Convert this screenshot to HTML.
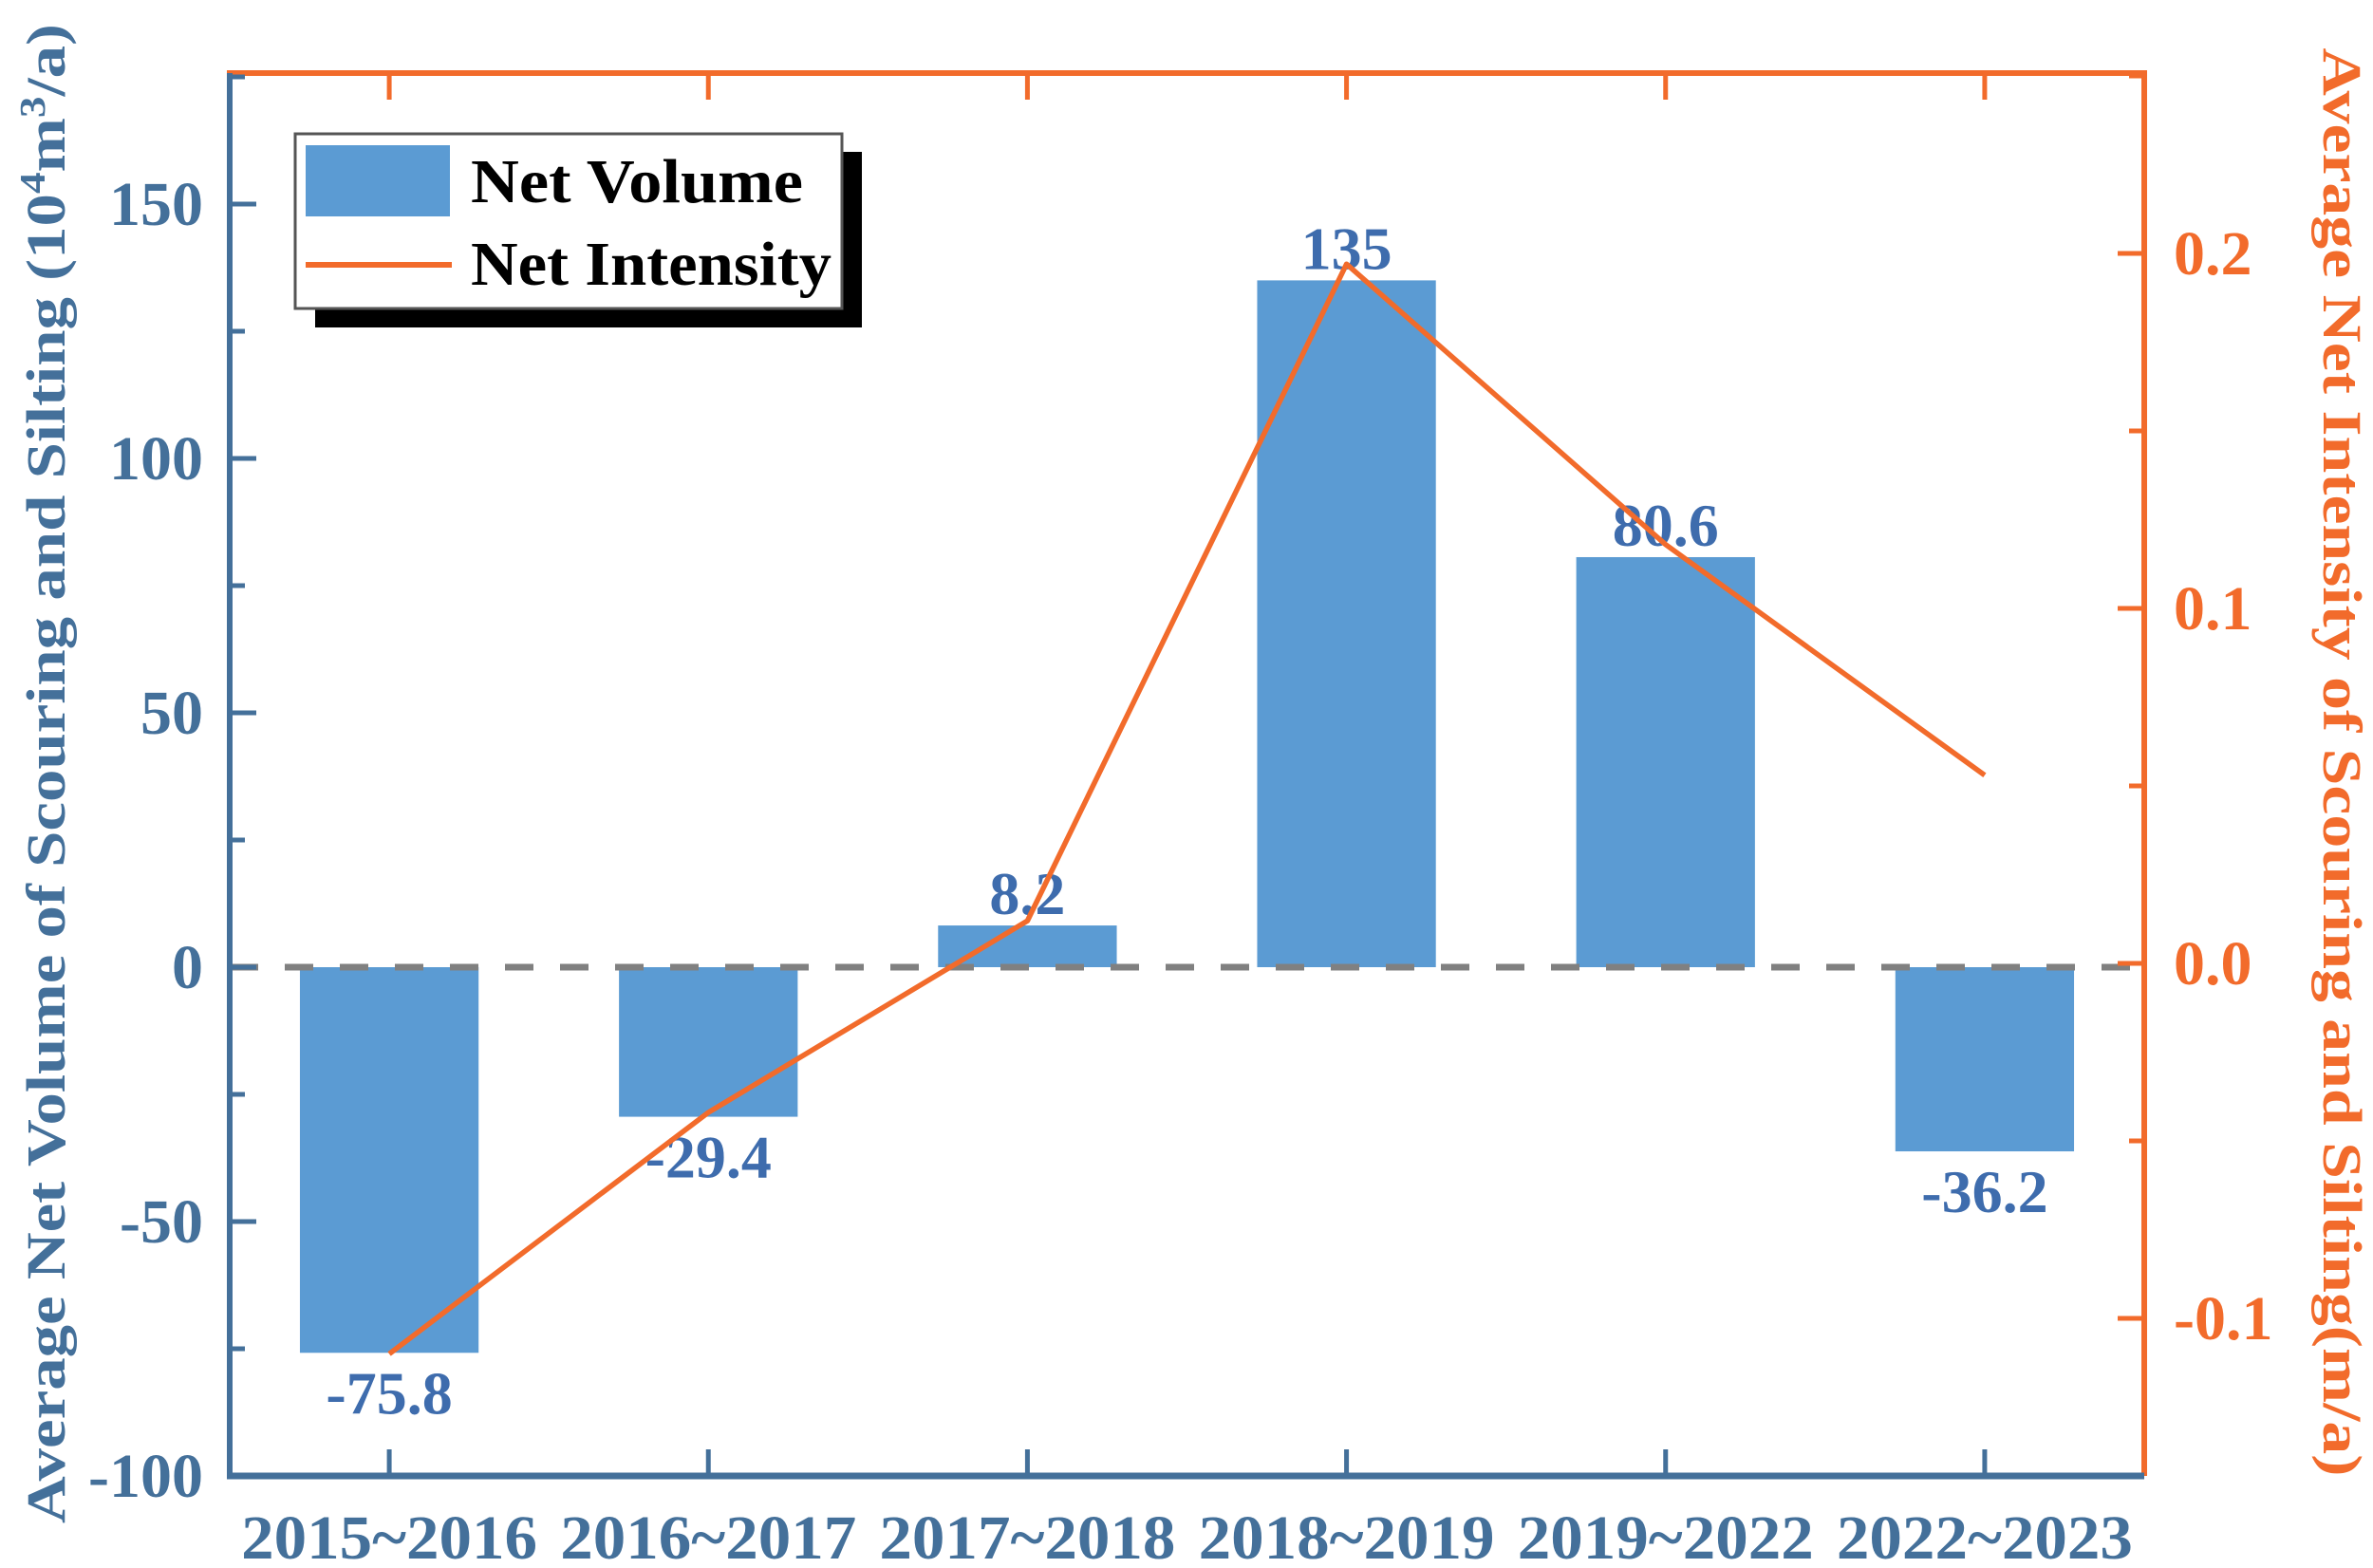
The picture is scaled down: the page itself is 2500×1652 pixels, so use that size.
<!DOCTYPE html>
<html><head><meta charset="utf-8"><style>
html,body{margin:0;padding:0;background:#fff;}
svg{display:block;font-family:"Liberation Serif",serif;font-weight:bold;}
</style></head><body>
<svg id="chart" width="2500" height="1652" viewBox="0 0 2500 1652">
<g id="marks"></g>
</svg>
<script>
const categories = ["2015~2016","2016~2017","2017~2018","2018~2019","2019~2022","2022~2023"];
const volumeValues = [-75.8, -29.4, 8.2, 135, 80.6, -36.2];
const volumeLabels = ["-75.8","-29.4","8.2","135","80.6","-36.2"];
const intensityValues = [-0.110, -0.042, 0.012, 0.197, 0.118, 0.053];
const leftTicks = [-100, -50, 0, 50, 100, 150];
const leftTickLabels = ["-100","-50","0","50","100","150"];
const rightTicks = [-0.1, 0.0, 0.1, 0.2];
const rightTickLabels = ["-0.1","0.0","0.1","0.2"];

const NS = "http://www.w3.org/2000/svg";
const gMarks = document.getElementById('marks');
const PL = 242, PR = 2259, PT = 77, PB = 1555;
const BLUE = "#44709a", BAR = "#5b9bd3", OR = "#f26b2b", LBL = "#3e6cad";
const band = (PR - PL) / categories.length;
function xC(i){ return PL + band * (i + 0.5); }
function yL(v){ return 1019 - v * 5.36; }
function yR(v){ return 1015 - v * 3740; }

function el(tag, attrs, parent){
  const e = document.createElementNS(NS, tag);
  for (const k in attrs) e.setAttribute(k, attrs[k]);
  (parent || gMarks).appendChild(e);
  return e;
}

// bars
const bw = band * 0.56;
volumeValues.forEach((v, i) => {
  const y0 = yL(0), y1 = yL(v);
  const r = el('rect', {x:xC(i) - bw/2, y:Math.min(y0,y1), width:bw, height:Math.abs(y1-y0), fill:BAR});
  
  
  const t = el('text', {x:xC(i), y: v >= 0 ? y1 - 12 : y1 + 64, 'text-anchor':'middle', 'font-size':64, fill:LBL});
  t.textContent = volumeLabels[i];
  
  
});
// dashed zero line
const zl2 = el('line', {x1:PL, x2:PR, y1:yL(0), y2:yL(0), stroke:"#808080", 'stroke-width':7, 'stroke-dasharray':"30 28"});



// line
const pts = intensityValues.map((v,i) => xC(i) + "," + yR(v)).join(" ");
const pline = el('polyline', {points:pts, fill:'none', stroke:OR, 'stroke-width':5.5, 'stroke-linejoin':'round'});



// axes frame
const axTop = el('line', {x1:PL-3, x2:PR+3, y1:PT, y2:PT, stroke:OR, 'stroke-width':6});


const axRight = el('line', {x1:PR, x2:PR, y1:PT, y2:PB, stroke:OR, 'stroke-width':6});


const axLeft = el('line', {x1:PL, x2:PL, y1:PT, y2:PB, stroke:BLUE, 'stroke-width':6});


const axBottom = el('line', {x1:PL-3, x2:PR, y1:PB, y2:PB, stroke:BLUE, 'stroke-width':7});



// x ticks & labels
categories.forEach((c, i) => {
  const tk = el('line', {x1:xC(i), x2:xC(i), y1:PB, y2:PB-28, stroke:BLUE, 'stroke-width':5});
  
  
  const tt = el('line', {x1:xC(i), x2:xC(i), y1:PT, y2:PT+28, stroke:OR, 'stroke-width':5});
  
  
  const t = el('text', {x:xC(i), y:1642, 'text-anchor':'middle', 'font-size':66, fill:BLUE, textLength:312, lengthAdjust:'spacingAndGlyphs'});
  t.textContent = c;
  
  
});

// left ticks
leftTicks.forEach((v, i) => {
  const tk = el('line', {x1:PL, x2:PL+28, y1:yL(v), y2:yL(v), stroke:BLUE, 'stroke-width':5});
  
  
  const mv = v + 25;
  if (yL(mv) > PT) {
    const mk = el('line', {x1:PL, x2:PL+16, y1:yL(mv), y2:yL(mv), stroke:BLUE, 'stroke-width':5});
    
    
  }
  const t = el('text', {x:214, y:yL(v)+22, 'text-anchor':'end', 'font-size':66, fill:BLUE});
  t.textContent = leftTickLabels[i];
  
  
});

// right ticks
rightTicks.forEach((v, i) => {
  const tk = el('line', {x1:PR, x2:PR-28, y1:yR(v), y2:yR(v), stroke:OR, 'stroke-width':5});
  
  
  const mv = v + 0.05;
  if (yR(mv) > PT) {
    const mk = el('line', {x1:PR, x2:PR-16, y1:yR(mv), y2:yR(mv), stroke:OR, 'stroke-width':5});
    
    
  }
  const t = el('text', {x:2290, y:yR(v)+22, 'text-anchor':'start', 'font-size':66, fill:OR});
  t.textContent = rightTickLabels[i];
  
  
});

// axis titles
const leftTitle = el('text', {x:0, y:0, 'text-anchor':'middle', 'font-size':58, fill:BLUE, transform:'translate(68,815) rotate(-90)', textLength:1580, lengthAdjust:'spacingAndGlyphs'});
leftTitle.innerHTML = 'Average Net Volume of Scouring and Silting (10<tspan baseline-shift="super" font-size="38">4</tspan>m<tspan baseline-shift="super" font-size="38">3</tspan>/a)';


const rightTitle = el('text', {x:0, y:0, 'text-anchor':'middle', 'font-size':58, fill:OR, transform:'translate(2448,803) rotate(90)', textLength:1505, lengthAdjust:'spacingAndGlyphs'});
rightTitle.textContent = 'Average Net Intensity of Scouring and Silting(m/a)';



// legend
const legG = el('g', {});


const legShadow = el('rect', {x:332, y:160, width:576, height:185, fill:'#000'}, legG);


const legBox = el('rect', {x:311, y:141, width:576, height:184, fill:'#fff', stroke:'#555', 'stroke-width':3}, legG);


const legSw = el('rect', {x:322, y:153, width:152, height:75, fill:BAR}, legG);


const legLine = el('line', {x1:322, x2:476, y1:279, y2:279, stroke:OR, 'stroke-width':6}, legG);


const legT1 = el('text', {x:496, y:213, 'font-size':66, fill:'#000', textLength:350, lengthAdjust:'spacingAndGlyphs'}, legG);
legT1.textContent = 'Net Volume';


const legT2 = el('text', {x:496, y:300, 'font-size':66, fill:'#000', textLength:380, lengthAdjust:'spacingAndGlyphs'}, legG);
legT2.textContent = 'Net Intensity';


</script>
</body></html>
